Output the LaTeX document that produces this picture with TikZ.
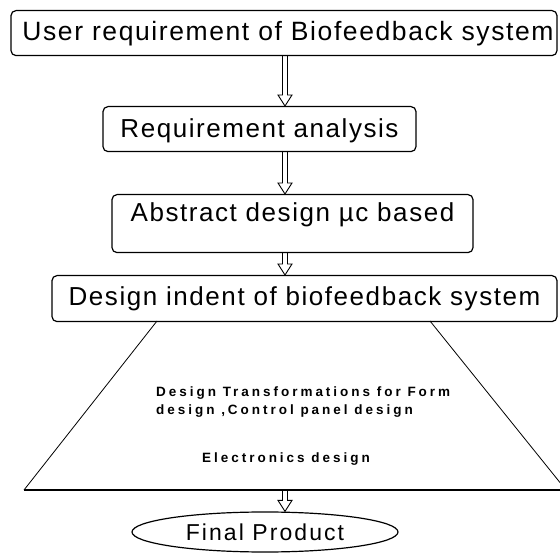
\documentclass[tikz,border=0pt]{standalone}
\usepackage{fontspec}
\setmainfont{Liberation Sans}
\newfontfamily\bigf[LetterSpace=6]{Liberation Sans}
\newfontfamily\finalf[LetterSpace=9]{Liberation Sans}
\newfontfamily\smallf[LetterSpace=22]{Liberation Sans}
\usetikzlibrary{calc,shapes.geometric}
\newcommand{\hollowarrow}[2]{%
  \draw[arrowline] let \p1=(#1 -| ax), \p2=(#2 -| ax) in
    (\x1-2.5pt,\y1) -- (\x1-2.5pt,\y2+11pt) -- (\x1-7pt,\y2+11pt) -- (\x1,\y2)
    -- (\x1+7pt,\y2+11pt) -- (\x1+2.5pt,\y2+11pt) -- (\x1+2.5pt,\y1);}
\begin{document}
\begin{tikzpicture}[x=1pt,y=-1pt,
  box/.style={draw, line width=1.2pt, rounded corners=5pt, inner xsep=0pt,
    inner ysep=0pt, anchor=north},
  bigtext/.style={font=\bigf\fontsize{26}{30}\selectfont},
  smalltext/.style={font=\smallf\bfseries\fontsize{13.5}{17}\selectfont, inner sep=0pt},
  arrowline/.style={draw, line width=0.9pt, line join=miter},
  slant/.style={line width=0.8pt},
  baseline/.style={line width=1.3pt}]
\useasboundingbox (0,0) rectangle (560,553);
\clip (0,0) rectangle (560,553);
\coordinate (ax) at (285,0);

\node[box, font=\bigf\fontsize{26.5}{30}\selectfont, minimum width=546pt,
  text height=30pt, text depth=15pt] (b1) at (284,10)
  {\hspace*{8pt}User requirement of Biofeedback system};
\node[box, bigtext, minimum width=313pt, text height=31pt, text depth=14pt]
  (b2) at (259.5,106) {Requirement analysis};
\node[box, bigtext, minimum width=361pt, text height=27pt, text depth=31pt]
  (b3) at (292.5,194) {Abstract design µc based};
\node[box, bigtext, minimum width=505pt, text height=30pt, text depth=16pt]
  (b4) at (304.5,275) {Design indent of biofeedback system};

\coordinate (tl) at (157,321);
\coordinate (tr) at (430,321);
\coordinate (bl) at (24,490);
\coordinate (br) at (566,490);
\coordinate (tb) at (285,490);
\draw[slant] (tl) -- (bl);
\draw[slant] (tr) -- (br);
\draw[baseline] (bl) -- (br);

\node[smalltext, anchor=base west] (t1) at (156,397) {Design Transformations for Form};
\node[smalltext, anchor=base west] (t2) at (156,414) {design ,Control panel design};
\node[smalltext, anchor=base] (t3) at (286,463) {Electronics design};

\node[draw, ellipse, line width=1.2pt, minimum width=266pt, minimum height=40pt,
  inner sep=0pt, font=\finalf\fontsize{23}{26}\selectfont] (fp) at (265,532)
  {Final Product};

\hollowarrow{b1.south}{b2.north}
\hollowarrow{b2.south}{b3.north}
\hollowarrow{b3.south}{b4.north}
\hollowarrow{tb}{fp.north}
\end{tikzpicture}
\end{document}
